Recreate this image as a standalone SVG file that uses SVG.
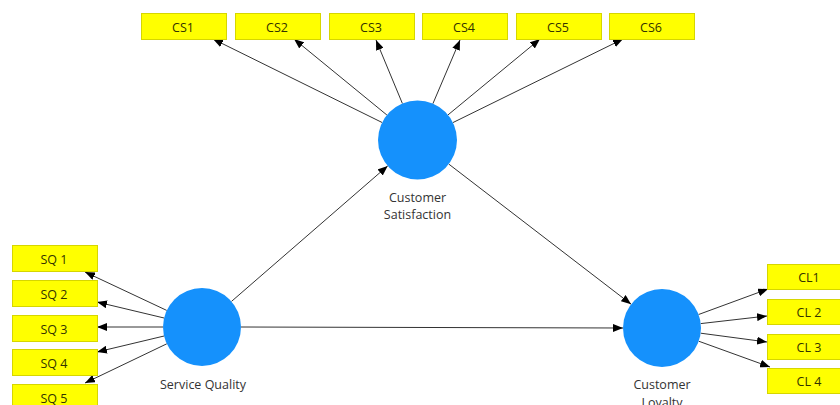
<svg xmlns="http://www.w3.org/2000/svg" width="840" height="405" viewBox="0 0 840 405">
  <style>
    .ind rect { fill: #ffff00; stroke: #d6d600; stroke-width: 1; }
    .ind text { font-family: "Open Sans", "Liberation Sans", sans-serif; font-size: 12.5px; fill: #333300; text-anchor: middle; }
    .lv circle { fill: #1591fc; }
    .lv text { font-family: "Open Sans", "Liberation Sans", sans-serif; font-size: 12.5px; fill: #333333; text-anchor: middle; }
    .edges line { stroke: #333333; stroke-width: 1; marker-end: url(#arrow); }
  </style>
  <defs>
    <marker id="arrow" markerUnits="userSpaceOnUse" markerWidth="10" markerHeight="8" refX="10" refY="4" orient="auto">
      <path d="M0,0 L10,4 L0,8 Z" fill="#000000"/>
    </marker>
  </defs>
  <rect width="840" height="405" fill="#ffffff"/>

  <!-- connectors -->
  <g id="connectors" class="edges">
    <!-- Customer Satisfaction -> CS indicators -->
    <line x1="382.1" y1="122.5" x2="213" y2="39"/>
    <line x1="386.9" y1="115" x2="294" y2="39"/>
    <line x1="402.4" y1="103.5" x2="376" y2="40"/>
    <line x1="432.9" y1="103.7" x2="460" y2="40"/>
    <line x1="448" y1="114.9" x2="540" y2="39"/>
    <line x1="452.9" y1="122.6" x2="623" y2="39"/>
    <!-- Service Quality -> SQ indicators -->
    <line x1="166.7" y1="310.4" x2="85" y2="272"/>
    <line x1="164.1" y1="318" x2="97" y2="302"/>
    <line x1="163" y1="327" x2="97" y2="327"/>
    <line x1="164.1" y1="336" x2="97" y2="352"/>
    <line x1="166.8" y1="343.8" x2="85" y2="383"/>
    <!-- Customer Loyalty -> CL indicators -->
    <line x1="698.6" y1="314.5" x2="768" y2="289"/>
    <line x1="700.7" y1="323.6" x2="767" y2="316"/>
    <line x1="700.7" y1="333.2" x2="767" y2="342"/>
    <line x1="698.7" y1="341.2" x2="770" y2="367"/>
    <!-- structural paths -->
    <line x1="231.5" y1="301.4" x2="387.7" y2="165.9"/>
    <line x1="241" y1="327" x2="623" y2="328"/>
    <line x1="448.8" y1="164.1" x2="631.1" y2="304.2"/>
  </g>

  <!-- latent variables -->
  <g id="customer-satisfaction" class="lv">
    <circle cx="417.5" cy="140" r="39.5"/>
    <text x="417.5" y="201.5">Customer</text>
    <text x="417.5" y="219">Satisfaction</text>
  </g>
  <g id="service-quality" class="lv">
    <circle cx="202" cy="327" r="39"/>
    <text x="203" y="389">Service Quality</text>
  </g>
  <g id="customer-loyalty" class="lv">
    <circle cx="662" cy="328" r="39"/>
    <text x="662" y="389">Customer</text>
    <text x="662" y="406.5">Loyalty</text>
  </g>

  <!-- CS indicators -->
  <g id="CS1" class="ind"><rect x="141.5" y="13.5" width="85" height="26"/><text x="183" y="31.5">CS1</text></g>
  <g id="CS2" class="ind"><rect x="235.5" y="13.5" width="85" height="26"/><text x="277" y="31.5">CS2</text></g>
  <g id="CS3" class="ind"><rect x="329.5" y="13.5" width="85" height="26"/><text x="371" y="31.5">CS3</text></g>
  <g id="CS4" class="ind"><rect x="422.5" y="13.5" width="85" height="26"/><text x="464" y="31.5">CS4</text></g>
  <g id="CS5" class="ind"><rect x="516.5" y="13.5" width="85" height="26"/><text x="558" y="31.5">CS5</text></g>
  <g id="CS6" class="ind"><rect x="609.5" y="13.5" width="85" height="26"/><text x="651" y="31.5">CS6</text></g>

  <!-- SQ indicators -->
  <g id="SQ1" class="ind"><rect x="12.5" y="245.5" width="85" height="26"/><text x="54" y="263.5">SQ 1</text></g>
  <g id="SQ2" class="ind"><rect x="12.5" y="280.5" width="85" height="26"/><text x="54" y="298.5">SQ 2</text></g>
  <g id="SQ3" class="ind"><rect x="12.5" y="315.5" width="85" height="26"/><text x="54" y="333.5">SQ 3</text></g>
  <g id="SQ4" class="ind"><rect x="12.5" y="349.5" width="85" height="26"/><text x="54" y="367.5">SQ 4</text></g>
  <g id="SQ5" class="ind"><rect x="12.5" y="384.5" width="85" height="26"/><text x="54" y="402.5">SQ 5</text></g>

  <!-- CL indicators -->
  <g id="CL1" class="ind"><rect x="767.5" y="264.5" width="85" height="25"/><text x="809" y="281.5">CL1</text></g>
  <g id="CL2" class="ind"><rect x="767.5" y="299.5" width="85" height="25"/><text x="809" y="316.5">CL 2</text></g>
  <g id="CL3" class="ind"><rect x="767.5" y="334.5" width="85" height="25"/><text x="809" y="351.5">CL 3</text></g>
  <g id="CL4" class="ind"><rect x="767.5" y="368.5" width="85" height="25"/><text x="809" y="385.5">CL 4</text></g>
</svg>
